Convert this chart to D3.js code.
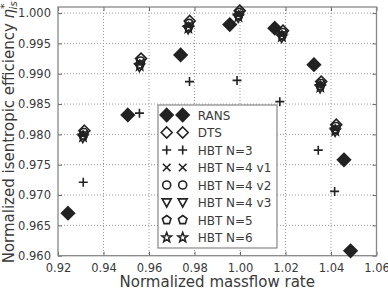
<!DOCTYPE html>
<html>
<head>
<meta charset="utf-8">
<script src="https://cdn.jsdelivr.net/npm/d3@7"></script>
<style>
  body { margin: 0; background: #fff; }
  svg text { font-family: "DejaVu Sans", sans-serif; fill: #3a3a3a; }
</style>
</head>
<body>
<div id="chart"></div>
<script>
// data
const ransX = [0.9244, 0.9507, 0.9739, 0.9955, 1.0153, 1.0325, 1.0457, 1.0486];
const ransY = [0.9670, 0.9832, 0.9931, 0.9981, 0.9975, 0.9915, 0.9758, 0.9608];

const dtsX = [0.9316, 0.9565, 0.9779, 0.9999, 1.0189, 1.0357, 1.0423];
const dtsY = [0.9806, 0.9925, 0.9987, 1.0004, 0.9971, 0.9887, 0.9816];

const hbt3X = [0.9311, 0.9558, 0.9778, 0.9987, 1.0175, 1.0344, 1.0416];
const hbt3Y = [0.9721, 0.9835, 0.9887, 0.9889, 0.9854, 0.9774, 0.9706];

const hbt4v1X = [0.9312, 0.9561, 0.9775, 0.9995, 1.0186, 1.0354, 1.0420];
const hbt4v1Y = [0.9800, 0.9918, 0.9980, 0.9998, 0.9965, 0.9882, 0.9810];

const hbt4v2X = [0.9314, 0.9563, 0.9777, 0.9997, 1.0188, 1.0356, 1.0422];
const hbt4v2Y = [0.9803, 0.9921, 0.9983, 1.0001, 0.9968, 0.9884, 0.9813];

const hbt4v3X = [0.9309, 0.9558, 0.9772, 0.9992, 1.0183, 1.0352, 1.0418];
const hbt4v3Y = [0.9794, 0.9911, 0.9973, 0.9992, 0.9959, 0.9876, 0.9804];

const hbt5X = [0.9311, 0.9560, 0.9774, 0.9994, 1.0185, 1.0353, 1.0419];
const hbt5Y = [0.9798, 0.9915, 0.9977, 0.9996, 0.9963, 0.9880, 0.9808];

const hbt6X = [0.9310, 0.9559, 0.9773, 0.9993, 1.0184, 1.0353, 1.0419];
const hbt6Y = [0.9796, 0.9913, 0.9975, 0.9994, 0.9961, 0.9878, 0.9806];

const xTicks = [0.92, 0.94, 0.96, 0.98, 1.00, 1.02, 1.04, 1.06];
const yTicks = [0.960, 0.965, 0.970, 0.975, 0.980, 0.985, 0.990, 0.995, 1.000];

// marker paths centred at 0,0
const markerPath = {
  diamond: s => `M0,${-s}L${s},0L0,${s}L${-s},0Z`,
  plus: s => `M${-s},0H${s}M0,${-s}V${s}`,
  cross: s => `M${-s},${-s}L${s},${s}M${-s},${s}L${s},${-s}`,
  circle: s => `M${s},0A${s},${s} 0 1,1 ${-s},0A${s},${s} 0 1,1 ${s},0Z`,
  triDown: s => `M${-s},${-s * 0.8}L${s},${-s * 0.8}L0,${s}Z`,
  pentagon: s => {
    const pts = d3.range(5).map(i => {
      const a = -Math.PI / 2 + i * 2 * Math.PI / 5;
      return [s * Math.cos(a), s * Math.sin(a)];
    });
    return "M" + pts.join("L") + "Z";
  },
  star: s => {
    const pts = d3.range(10).map(i => {
      const a = -Math.PI / 2 + i * Math.PI / 5;
      const r = i % 2 ? s * 0.42 : s;
      return [r * Math.cos(a), r * Math.sin(a)];
    });
    return "M" + pts.join("L") + "Z";
  }
};

const series = [
  { name: "RANS", xs: ransX, ys: ransY, shape: "diamond", size: 6.5, fill: true },
  { name: "DTS", xs: dtsX, ys: dtsY, shape: "diamond", size: 5.5, fill: false },
  { name: "HBT N=3", xs: hbt3X, ys: hbt3Y, shape: "plus", size: 4.5, fill: false },
  { name: "HBT N=4 v1", xs: hbt4v1X, ys: hbt4v1Y, shape: "cross", size: 3.8, fill: false },
  { name: "HBT N=4 v2", xs: hbt4v2X, ys: hbt4v2Y, shape: "circle", size: 4, fill: false },
  { name: "HBT N=4 v3", xs: hbt4v3X, ys: hbt4v3Y, shape: "triDown", size: 4.5, fill: false },
  { name: "HBT N=5", xs: hbt5X, ys: hbt5Y, shape: "pentagon", size: 4.5, fill: false },
  { name: "HBT N=6", xs: hbt6X, ys: hbt6Y, shape: "star", size: 5, fill: false }
];

const W = 388, H = 290;
const margin = { top: 7, right: 11.5, bottom: 34.3, left: 58 };
const width = W - margin.left - margin.right;
const height = H - margin.top - margin.bottom;
const ink = "#222";

const svg = d3.select("#chart").append("svg")
  .attr("width", W)
  .attr("height", H);

const g = svg.append("g")
  .attr("transform", `translate(${margin.left},${margin.top})`);

const x = d3.scaleLinear().domain([0.92, 1.06]).range([0, width]);
const y = d3.scaleLinear().domain([0.960, 1.001]).range([height, 0]);

// grid
g.append("g").selectAll("line").data(xTicks.slice(1, -1)).join("line")
  .attr("x1", d => x(d)).attr("x2", d => x(d))
  .attr("y1", 0).attr("y2", height)
  .attr("stroke", "#999").attr("stroke-width", 1)
  .attr("stroke-dasharray", "1,2");
g.append("g").selectAll("line").data(yTicks.slice(1)).join("line")
  .attr("x1", 0).attr("x2", width)
  .attr("y1", d => y(d)).attr("y2", d => y(d))
  .attr("stroke", "#999").attr("stroke-width", 1)
  .attr("stroke-dasharray", "1,2");

// axes with inward ticks
const xAxis = g.append("g")
  .attr("transform", `translate(0,${height})`)
  .call(d3.axisBottom(x).tickValues(xTicks).tickFormat(d3.format(".2f")).tickSize(-4).tickPadding(8));
const yAxis = g.append("g")
  .call(d3.axisLeft(y).tickValues(yTicks).tickFormat(d3.format(".3f")).tickSize(-4).tickPadding(7));
g.append("g")
  .call(d3.axisTop(x).tickValues(xTicks).tickFormat("").tickSize(-4));
g.append("g")
  .attr("transform", `translate(${width},0)`)
  .call(d3.axisRight(y).tickValues(yTicks).tickFormat("").tickSize(-4));

g.selectAll(".domain").remove();
g.selectAll(".tick line").attr("stroke", "#666");
[xAxis, yAxis].forEach(a => a.selectAll("text")
  .style("font-size", "11.5px")
  .style("font-family", "'DejaVu Sans', sans-serif")
  .attr("fill", "#3a3a3a"));

// frame
g.append("rect")
  .attr("width", width).attr("height", height)
  .attr("fill", "none").attr("stroke", "#888").attr("stroke-width", 1.3);

// markers
series.forEach(s => {
  g.append("g").selectAll("path").data(s.xs.map((v, i) => [v, s.ys[i]])).join("path")
    .attr("transform", d => `translate(${x(d[0])},${y(d[1])})`)
    .attr("d", markerPath[s.shape](s.size))
    .attr("fill", s.fill ? ink : "none")
    .attr("stroke", ink)
    .attr("stroke-width", 1.6)
    .attr("stroke-linejoin", "miter");
});

// legend
const legend = g.append("g").attr("transform", `translate(${158 - margin.left},${105 - margin.top})`);
legend.append("rect")
  .attr("width", 119).attr("height", 143)
  .attr("fill", "#fff").attr("stroke", "#888").attr("stroke-width", 1.2);

const rows = legend.selectAll("g.row").data(series).join("g")
  .attr("class", "row")
  .attr("transform", (d, i) => `translate(0,${10 + i * 17.5})`);
[8.7, 24.7].forEach(mx => {
  rows.append("path")
    .attr("transform", `translate(${mx},0)`)
    .attr("d", d => markerPath[d.shape](d.size))
    .attr("fill", d => d.fill ? ink : "none")
    .attr("stroke", ink)
    .attr("stroke-width", 1.6);
});
rows.append("text")
  .attr("x", 39.7).attr("y", 4.5)
  .style("font-size", "12px")
  .text(d => d.name);

// axis titles
svg.append("text")
  .attr("x", margin.left + width / 2)
  .attr("y", 286.5)
  .attr("text-anchor", "middle")
  .style("font-size", "15px")
  .text("Normalized massflow rate");

const yt = svg.append("text")
  .attr("transform", `translate(14,${margin.top + height / 2 + 1}) rotate(-90)`)
  .attr("text-anchor", "middle")
  .style("font-size", "15px");
yt.append("tspan").text("Normalized isentropic efficiency ");
yt.append("tspan").style("font-style", "italic").text("η");
yt.append("tspan").attr("dy", -6).style("font-size", "11px").text("*");
yt.append("tspan").attr("dx", -6).attr("dy", 9).style("font-size", "10px").style("font-style", "italic").text("is");
</script>
</body>
</html>
